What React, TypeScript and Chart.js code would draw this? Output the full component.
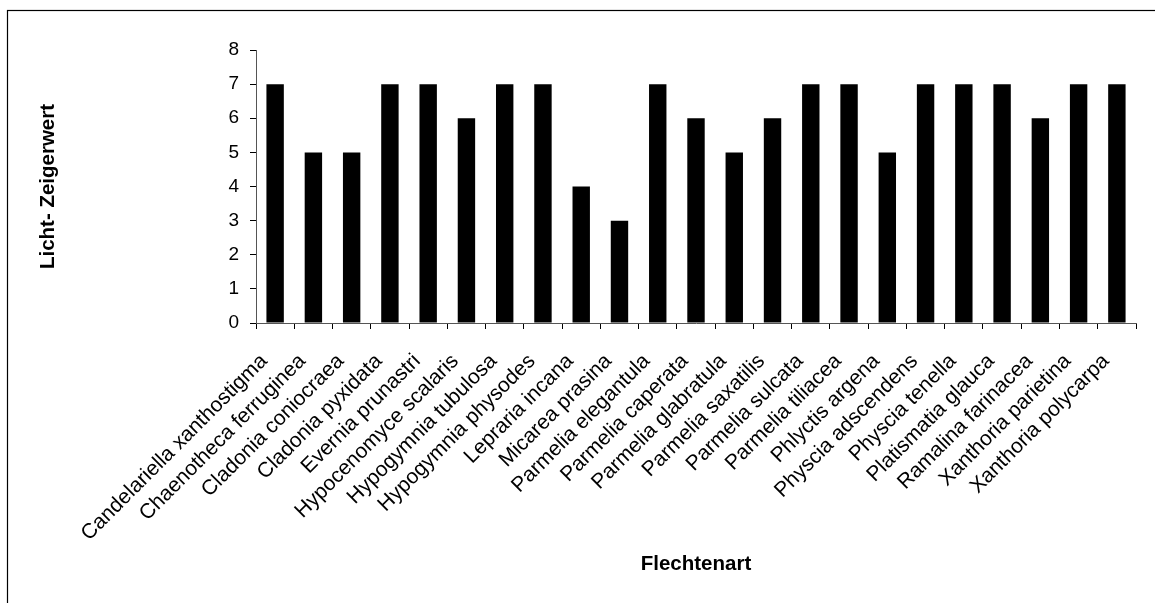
import React, { useEffect, useRef } from "react";
import { Chart, registerables } from "chart.js";

Chart.register(...registerables);

const categories: string[] = [
  "Candelariella xanthostigma",
  "Chaenotheca ferruginea",
  "Cladonia coniocraea",
  "Cladonia pyxidata",
  "Evernia prunastri",
  "Hypocenomyce scalaris",
  "Hypogymnia tubulosa",
  "Hypogymnia physodes",
  "Lepraria incana",
  "Micarea prasina",
  "Parmelia elegantula",
  "Parmelia caperata",
  "Parmelia glabratula",
  "Parmelia saxatilis",
  "Parmelia sulcata",
  "Parmelia tiliacea",
  "Phlyctis argena",
  "Physcia adscendens",
  "Physcia tenella",
  "Platismatia glauca",
  "Ramalina farinacea",
  "Xanthoria parietina",
  "Xanthoria polycarpa",
];

const lichtValues: number[] = [7, 5, 5, 7, 7, 6, 7, 7, 4, 3, 7, 6, 5, 6, 7, 7, 5, 7, 7, 7, 6, 7, 7];

const yTicks: number[] = [0, 1, 2, 3, 4, 5, 6, 7, 8];

const yTitle = "Licht- Zeigerwert";
const xTitle = "Flechtenart";

const W = 1155;
const H = 603;
const FONT = "'Liberation Sans', Arial, sans-serif";

const frame = {
  id: "frame",
  beforeDraw(chart: any) {
    const ctx = chart.ctx;
    ctx.save();
    ctx.fillStyle = "#fff";
    ctx.fillRect(0, 0, W, H);
    ctx.strokeStyle = "#000";
    ctx.lineWidth = 1.2;
    ctx.strokeRect(7.5, 10.5, W + 50, H + 50);
    ctx.restore();
  },
};

export default function App() {
  const ref = useRef<HTMLCanvasElement | null>(null);

  useEffect(() => {
    if (!ref.current) return;
    const chart = new Chart(ref.current, {
      type: "bar",
      data: {
        labels: categories,
        datasets: [
          {
            data: lichtValues,
            backgroundColor: "#000",
            borderColor: "#000",
            borderWidth: 0,
            categoryPercentage: 1,
            barPercentage: 0.455,
          },
        ],
      },
      plugins: [frame],
      options: {
        responsive: false,
        animation: false,
        devicePixelRatio: 1,
        layout: { padding: { top: 50, right: 14, left: 0, bottom: 0 } },
        plugins: {
          legend: { display: false },
          tooltip: { enabled: false },
        },
        scales: {
          x: {
            grid: {
              display: true,
              drawOnChartArea: false,
              drawTicks: true,
              tickLength: 6,
              color: "#000",
              offset: true,
            },
            border: { display: true, color: "#555", width: 1 },
            ticks: {
              autoSkip: false,
              minRotation: 45,
              maxRotation: 45,
              padding: 20,
              labelOffset: -11,
              color: "#000",
              font: { family: FONT, size: 21 },
            },
            title: {
              display: true,
              text: xTitle,
              color: "#000",
              font: { family: FONT, size: 20.5, weight: "bold" },
              padding: { top: 0, bottom: 26 },
            },
            afterFit: (s: any) => {
              s.height = H - 323;
            },
          },
          y: {
            min: 0,
            max: 8,
            afterBuildTicks: (s: any) => {
              s.ticks = yTicks.map((v) => ({ value: v }));
            },
            grid: {
              display: true,
              drawOnChartArea: false,
              drawTicks: true,
              tickLength: 6,
              color: "#000",
            },
            border: { display: true, color: "#555", width: 1 },
            ticks: {
              padding: 11,
              color: "#000",
              font: { family: FONT, size: 19 },
            },
            title: {
              display: true,
              text: yTitle,
              color: "#000",
              font: { family: FONT, size: 20.5, weight: "bold" },
              padding: { top: 36, bottom: 0 },
            },
            afterFit: (s: any) => {
              s.width = 256;
            },
          },
        },
      },
    });
    return () => chart.destroy();
  }, []);

  return (
    <div style={{ position: "absolute", left: 0, top: 0, width: W, height: H, background: "#fff" }}>
      <canvas ref={ref} width={W} height={H} style={{ display: "block", width: W, height: H }} />
    </div>
  );
}
